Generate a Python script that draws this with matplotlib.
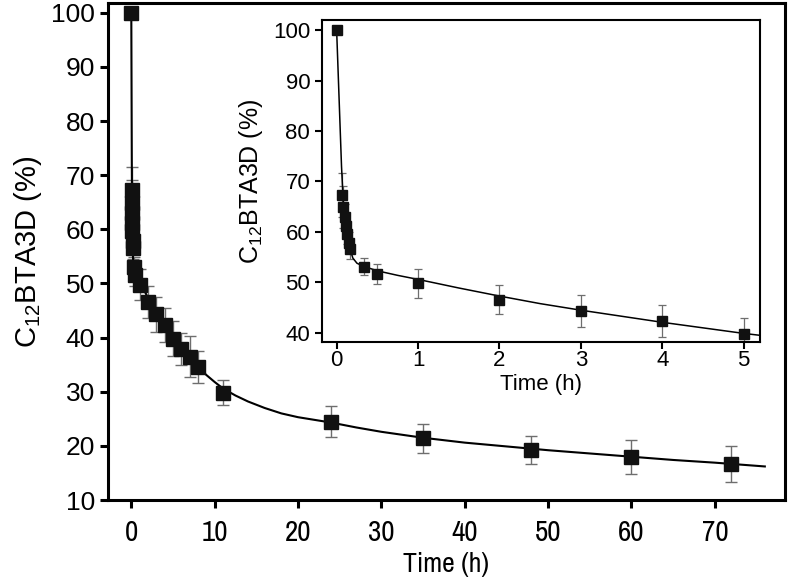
import matplotlib.pyplot as plt

plt.rcParams['font.family'] = ['Liberation Sans', 'DejaVu Sans']
plt.rcParams['mathtext.default'] = 'regular'

# Measured release data
time_h = [0, 0.067, 0.083, 0.1, 0.117, 0.133, 0.15, 0.167, 0.33, 0.5, 1, 2, 3, 4, 5,
          6, 7, 8, 11, 24, 35, 48, 60, 72]
conc = [100, 67.3, 64.9, 63.0, 61.1, 59.6, 57.9, 56.6, 53.1, 51.6, 49.8, 46.6, 44.3, 42.3, 39.8,
        37.9, 36.5, 34.6, 29.8, 24.5, 21.4, 19.2, 17.9, 16.6]
err = [0, 4.3, 4.2, 2.6, 2.2, 2.0, 2.0, 2.0, 1.7, 2.0, 2.9, 2.9, 3.2, 3.2, 3.2,
       3.0, 3.8, 2.9, 2.3, 2.9, 2.7, 2.6, 3.1, 3.3]

# Fitted curve
fit_t = [0, 0.02, 0.04, 0.06, 0.08, 0.1, 0.12, 0.14, 0.16, 0.18, 0.2, 0.25, 0.33, 0.5, 0.75,
         1, 1.5, 2, 2.5, 3, 3.5, 4, 4.5, 5, 6, 7, 8, 9, 10, 11, 12.5, 14, 16, 18, 20, 22,
         24, 27, 30, 35, 40, 45, 50, 55, 60, 65, 70, 76]
fit_y = [100, 91, 82, 73, 66.5, 63, 60.5, 58.5, 57, 55.8, 54.8, 53.8, 53.2, 52.3, 51.4,
         50.6, 48.9, 47.3, 45.8, 44.5, 43.3, 42.1, 41.0, 39.9, 38.0, 36.2, 34.6, 33.1, 31.8,
         30.6, 29.3, 28.2, 27.0, 26.0, 25.3, 24.8, 24.3, 23.4, 22.6, 21.5, 20.6, 19.9, 19.2,
         18.6, 18.0, 17.4, 16.9, 16.2]

main_xticks = [0, 10, 20, 30, 40, 50, 60, 70]
main_yticks = [10, 20, 30, 40, 50, 60, 70, 80, 90, 100]
inset_xticks = [0, 1, 2, 3, 4, 5]
inset_yticks = [40, 50, 60, 70, 80, 90, 100]

ylab = 'C$_{12}$BTA3D (%)'
narrow = ['Archivo Narrow', 'Roboto Condensed', 'Liberation Sans']

fig = plt.figure(figsize=(7.88, 5.84), dpi=100)

# Main plot
ax = fig.add_axes([0.137, 0.1438, 0.859, 0.851])
ax.plot(fit_t, fit_y, color='black', lw=1.5, zorder=2)
ax.errorbar(time_h, conc, yerr=err, fmt='none', ecolor='#6e6e6e', elinewidth=1,
            capsize=4.5, capthick=1, zorder=1)
ax.plot(time_h, conc, 's', color='#111111', markersize=10, zorder=3)
ax.set_xlim(-2.8, 78.4)
ax.set_ylim(10, 101.8)
ax.set_xticks(main_xticks)
ax.set_yticks(main_yticks)
for s in ax.spines.values():
    s.set_linewidth(2.2)
ax.tick_params(direction='out', length=6, width=2.2, labelsize=19)
ax.tick_params(axis='x', pad=8)
for lab in ax.get_xticklabels():
    lab.set_family(narrow)
    lab.set_fontsize(21)
ax.set_xlabel('Time (h)', fontsize=20, family=narrow, labelpad=4)
ax.set_ylabel(ylab, fontsize=21, labelpad=5)

# Inset: first 5 hours
ins = fig.add_axes([0.4086, 0.4144, 0.5559, 0.5514])
ins.plot(fit_t, fit_y, color='black', lw=1.1, zorder=2)
ins.errorbar(time_h, conc, yerr=err, fmt='none', ecolor='#6e6e6e', elinewidth=0.9,
             capsize=3, capthick=0.9, zorder=1)
ins.plot(time_h, conc, 's', color='#111111', markersize=6.5, zorder=3)
ins.set_xlim(-0.18, 5.2)
ins.set_ylim(38.2, 102)
ins.set_xticks(inset_xticks)
ins.set_yticks(inset_yticks)
for s in ins.spines.values():
    s.set_linewidth(1.5)
ins.tick_params(direction='out', length=5, width=1.5, labelsize=16)
ins.tick_params(axis='x', pad=1)
ins.set_xlabel('Time (h)', fontsize=16, labelpad=2)
ins.set_ylabel(ylab, fontsize=18, labelpad=6)

plt.savefig('out.png', dpi=100)
